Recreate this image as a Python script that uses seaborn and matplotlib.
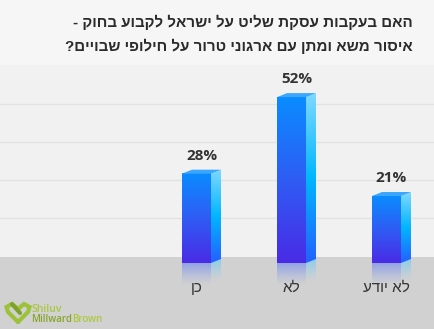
import numpy as np
import pandas as pd
import matplotlib
matplotlib.use('Agg')
import matplotlib.pyplot as plt
from matplotlib.colors import LinearSegmentedColormap, to_rgb
from matplotlib.patches import Polygon, Rectangle
import seaborn as sns

categories = ['כן', 'לא', 'לא יודע']
values = [28, 52, 21]
title_lines = ['האם בעקבות עסקת שליט על ישראל לקבוע בחוק -',
               'איסור משא ומתן עם ארגוני טרור על חילופי שבויים?']


def rtl(s):
    # matplotlib has no bidi support, so flip hebrew strings by hand
    return s[::-1]


sns.set_theme(style='white')
plt.rcParams['font.family'] = ['Open Sans', 'DejaVu Sans']

W, H = 435, 329
fig = plt.figure(figsize=(W / 100, H / 100), dpi=100)
fig.patch.set_facecolor('#f1f1f1')
renderer = fig.canvas.get_renderer()

# background decoration in pixel coordinates
bg = fig.add_axes([0, 0, 1, 1], zorder=0)
bg.set_xlim(0, W)
bg.set_ylim(H, 0)
bg.axis('off')
bg.add_patch(Rectangle((0, 0), W, 65, color='#f6f6f6', lw=0))
bg.add_patch(Rectangle((0, 257), W, H - 257, color='#d1d1d1', lw=0))
shade = np.linspace(0, 1, 50).reshape(-1, 1)
shade_img = np.zeros((50, 1, 4))
shade_img[..., :3] = to_rgb('#b5b5b5')
shade_img[..., 3] = (1 - shade) ** 2 * 0.7
bg.imshow(shade_img, extent=[0, W, 265, 257], aspect='auto')
bg.set_xlim(0, W)
bg.set_ylim(H, 0)

# title, sized so that the first line spans like in the original
heb_font = ['Liberation Sans', 'DejaVu Sans']
for i, line in enumerate(title_lines):
    t = bg.text(413, 22 + 24 * i, rtl(line), ha='right', va='center',
                fontsize=12.5, fontweight='bold', color='#2b2b2b', family=heb_font)
    if i == 0:
        tw = t.get_window_extent(renderer).width
        tsize = 12.5 * 340 / tw
    t.set_fontsize(tsize)

# logo
heart_x = [18, 8, 6.5, 12, 18, 24, 29.5, 28, 18]
heart_y = [322, 312, 307, 304, 309, 304, 307, 312, 322]
bg.plot(heart_x, heart_y, color='#9cc23a', lw=3, solid_joinstyle='miter')
bg.plot([12, 20], [304, 313], color='#7fa32a', lw=3)
bg.text(31, 309, 'Shiluv', fontsize=7.5, color='#a7c83e', va='center',
        fontweight='semibold')
mw = bg.text(31, 319, 'Millward', fontsize=7, color='#86a52a', va='center',
             fontweight='semibold')
mw_ext = mw.get_window_extent(renderer)
bg.text(mw_ext.x1 + 0.5, 319, 'Brown', fontsize=7, color='#abc93f', va='center',
        fontweight='semibold')

# main chart: full width so the grid lines run edge to edge
px_per_cat = 95
sy = 3.19         # pixels per percent
ax = fig.add_axes([0, (H - 263) / H, 1, 193 / H], zorder=2)
ax.patch.set_alpha(0)
df = pd.DataFrame({'answer': categories, 'pct': values})
sns.barplot(data=df, x='answer', y='pct', width=29 / px_per_cat, color='#1a7cff', ax=ax)

xlim = (1 - 291.5 / px_per_cat, 1 + (W - 291.5) / px_per_cat)
ymax = 193 / sy
ax.set_yticks(14.1 + 11.9 * np.arange(4))
ax.yaxis.grid(True, color='#e2e2e2', lw=1)
ax.set_yticklabels([])
ax.tick_params(axis='y', length=0)
sns.despine(ax=ax, left=True, bottom=True)
ax.set_xlabel('')
ax.set_ylabel('')
ax.set_xticks(range(len(categories)))
ax.set_xticklabels([rtl(c) for c in categories], fontsize=11, color='#333333',
                   family=heb_font)
ax.tick_params(axis='x', length=0, pad=13)

front_cmap = LinearSegmentedColormap.from_list('front', ['#4a2be6', '#2f5cf4', '#0a8cff'])
side_cmap = LinearSegmentedColormap.from_list('side', ['#2460ff', '#00b6ff', '#7ed9ff'])
grad = np.linspace(0, 1, 256).reshape(-1, 1)

d = 10 / px_per_cat   # depth of the side face in x units
dy = 4 / sy           # vertical skew of the side face
refl = 22 / sy        # reflection length below the floor


def fade(color, n=64, a0=0.9):
    img = np.zeros((n, 1, 4))
    img[..., :3] = to_rgb(color)
    img[..., 3] = np.linspace(0, 1, n).reshape(-1, 1) ** 1.2 * a0
    return img


for p, v in zip(ax.patches, values):
    x0, w, h = p.get_x(), p.get_width(), p.get_height()
    p.set_visible(False)

    ax.imshow(grad, extent=[x0, x0 + w, 0, h], origin='lower', aspect='auto',
              cmap=front_cmap, zorder=3)

    side = Polygon([(x0 + w, 0), (x0 + w + d, dy), (x0 + w + d, h + dy), (x0 + w, h)],
                   closed=True, facecolor='none', edgecolor='none', zorder=3)
    ax.add_patch(side)
    im = ax.imshow(grad, extent=[x0 + w, x0 + w + d, 0, h + dy], origin='lower',
                   aspect='auto', cmap=side_cmap, zorder=3)
    im.set_clip_path(side)

    ax.add_patch(Polygon([(x0, h), (x0 + w, h), (x0 + w + d, h + dy), (x0 + d, h + dy)],
                         closed=True, facecolor='#3aa6ff', edgecolor='none', zorder=4))

    # reflection on the floor
    r1 = ax.imshow(fade('#8b9ee8'), extent=[x0, x0 + w, -refl, 0], origin='lower',
                   aspect='auto', zorder=2)
    r1.set_clip_on(False)
    r2 = ax.imshow(fade('#84cdee'), extent=[x0 + w, x0 + w + d, -refl + dy, dy], origin='lower',
                   aspect='auto', zorder=2)
    r2.set_clip_on(False)

    ax.text(x0 + (w + d) / 2, h + dy + 2.2, f'{v}%', ha='center', va='bottom',
            fontsize=11, fontweight='bold', color='#333333')

ax.set_xlim(*xlim)
ax.set_ylim(0, ymax)

fig.savefig('out.png', dpi=100, facecolor=fig.get_facecolor())
